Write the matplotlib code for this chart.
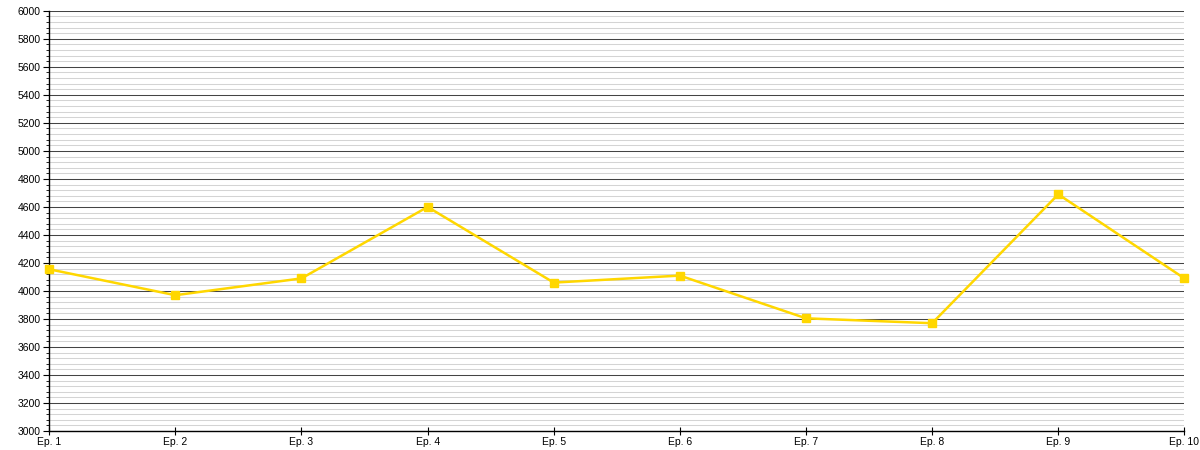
import matplotlib.pyplot as plt
from matplotlib.ticker import MultipleLocator

episodes = ["Ep. 1", "Ep. 2", "Ep. 3", "Ep. 4", "Ep. 5",
            "Ep. 6", "Ep. 7", "Ep. 8", "Ep. 9", "Ep. 10"]
values = [4155, 3970, 4090, 4600, 4060, 4110, 3805, 3770, 4690, 4090]

plt.rcParams['font.family'] = ['Liberation Sans', 'DejaVu Sans']

fig, ax = plt.subplots(figsize=(12, 4.5), dpi=100)
fig.subplots_adjust(left=0.041, right=0.987, top=0.976, bottom=0.042)

x = list(range(len(episodes)))
ax.plot(x, values, color='#FFD700', linewidth=1.8, marker='s', markersize=5.5,
        markerfacecolor='#FFD700', markeredgecolor='#FFD700', zorder=3,
        clip_on=False)

ax.set_xlim(0, len(episodes) - 1)
ax.set_ylim(3000, 6000)
ax.set_xticks(x)
ax.set_xticklabels(episodes)
ax.yaxis.set_major_locator(MultipleLocator(200))
ax.yaxis.set_minor_locator(MultipleLocator(40))

# Siatka: główne linie ciemne, pomocnicze jasne
ax.grid(which='major', axis='y', color='#444444', linewidth=0.75)
ax.grid(which='minor', axis='y', color='#d4d4d4', linewidth=0.75)
ax.set_axisbelow(True)

for side in ['top', 'right']:
    ax.spines[side].set_visible(False)
for side in ['left', 'bottom']:
    ax.spines[side].set_color('black')
    ax.spines[side].set_linewidth(1)

ax.tick_params(axis='y', which='major', length=4, labelsize=7.5, pad=2)
ax.tick_params(axis='y', which='minor', length=2.5)
ax.tick_params(axis='x', which='major', direction='inout', length=6,
               labelsize=7.5, pad=1)

fig.savefig("out.png", dpi=100)
